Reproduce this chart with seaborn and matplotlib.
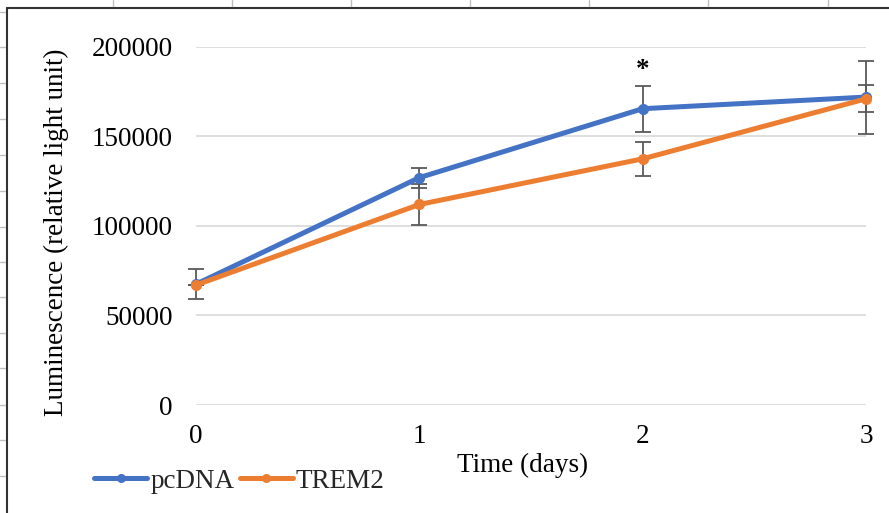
import numpy as np
import pandas as pd
import matplotlib
matplotlib.use("Agg")
from matplotlib import pyplot as plt
from matplotlib.lines import Line2D
import seaborn as sns

# values
days = [0, 1, 2, 3]
pcdna = [67500, 127000, 165500, 172000]
trem2 = [67000, 112000, 137500, 171000]
pcdna_err = [8200, 5600, 12900, 20400]
trem2_err = [0, 11400, 9500, 7500]
yticks = [0, 50000, 100000, 150000, 200000]

blue = "#4472C4"
orange = "#ED7D31"
fs = 19.5

df = pd.DataFrame({
    "day": days * 2,
    "value": pcdna + trem2,
    "group": ["pcDNA"] * 4 + ["TREM2"] * 4,
})

sns.set_theme(style="white")
plt.rcParams["font.family"] = ["Liberation Serif", "DejaVu Serif"]

fig = plt.figure(figsize=(8.89, 5.13), dpi=100)
ax = fig.add_axes([0.2205, 0.2105, 0.7535, 0.698])

# error bars first, so the lines sit on top
ax.errorbar(days, pcdna, yerr=pcdna_err, fmt="none", ecolor="#595959",
            elinewidth=1.3, capsize=6, capthick=1.3, zorder=2, clip_on=False)
ax.errorbar(days, trem2, yerr=trem2_err, fmt="none", ecolor="#595959",
            elinewidth=1.3, capsize=6, capthick=1.3, zorder=2, clip_on=False)

sns.lineplot(data=df, x="day", y="value", hue="group",
             palette={"pcDNA": blue, "TREM2": orange},
             marker="o", markersize=8, markeredgewidth=0,
             linewidth=3.6, ax=ax, legend=False, zorder=3, clip_on=False)

# significance mark above pcDNA day 2
ax.text(days[2], pcdna[2] + pcdna_err[2] + 8500, "*", ha="center", va="center",
        fontsize=fs, color="black", fontweight="bold")

ax.set_xlim(0, 3)
ax.set_ylim(0, 200000)
ax.set_xticks(days)
ax.set_yticks(yticks)
ax.set_yticklabels([str(t) for t in yticks])
ax.yaxis.grid(True, color="#d9d9d9", linewidth=1.2)
ax.set_axisbelow(True)
for s in ax.spines.values():
    s.set_visible(False)
ax.tick_params(axis="both", length=0, labelsize=fs, colors="black")
ax.tick_params(axis="x", pad=14)
ax.tick_params(axis="y", pad=17)

ax.set_ylabel("Luminescence (relative light unit)", fontsize=fs, color="black")
ax.yaxis.set_label_coords(-0.19, 0.482)
ax.set_xlabel("Time (days)", fontsize=fs, color="black", va="center")
ax.xaxis.set_label_coords(0.488, -0.1676)

handles = [
    Line2D([], [], color=blue, linewidth=3.6, marker="o", markersize=6.5, markeredgewidth=0),
    Line2D([], [], color=orange, linewidth=3.6, marker="o", markersize=6.5, markeredgewidth=0),
]
fig.legend(handles, ["pcDNA", "TREM2"], loc="center left",
           bbox_to_anchor=(0.106, 0.062), ncol=2, frameon=False, fontsize=fs,
           handlelength=1.95, handletextpad=0.12, columnspacing=0.2,
           borderpad=0, borderaxespad=0)

# chart border and worksheet ruler marks from the screenshot
fig.add_artist(Line2D([7 / 889, 1], [1 - 8 / 513, 1 - 8 / 513], color="#333333", linewidth=1.5))
fig.add_artist(Line2D([7 / 889, 7 / 889], [0, 1 - 8 / 513], color="#333333", linewidth=1.5))
for xp in [113, 232, 351, 470, 589, 708, 828]:
    fig.add_artist(Line2D([xp / 889, xp / 889], [1 - 6 / 513, 1], color="#bfbfbf", linewidth=1))
for yp in [12, 47, 83, 119, 155, 191, 227, 262, 297, 333, 368, 405, 440, 476]:
    fig.add_artist(Line2D([0, 5 / 889], [1 - yp / 513, 1 - yp / 513], color="#bfbfbf", linewidth=1))

fig.savefig("out.png", dpi=100)
